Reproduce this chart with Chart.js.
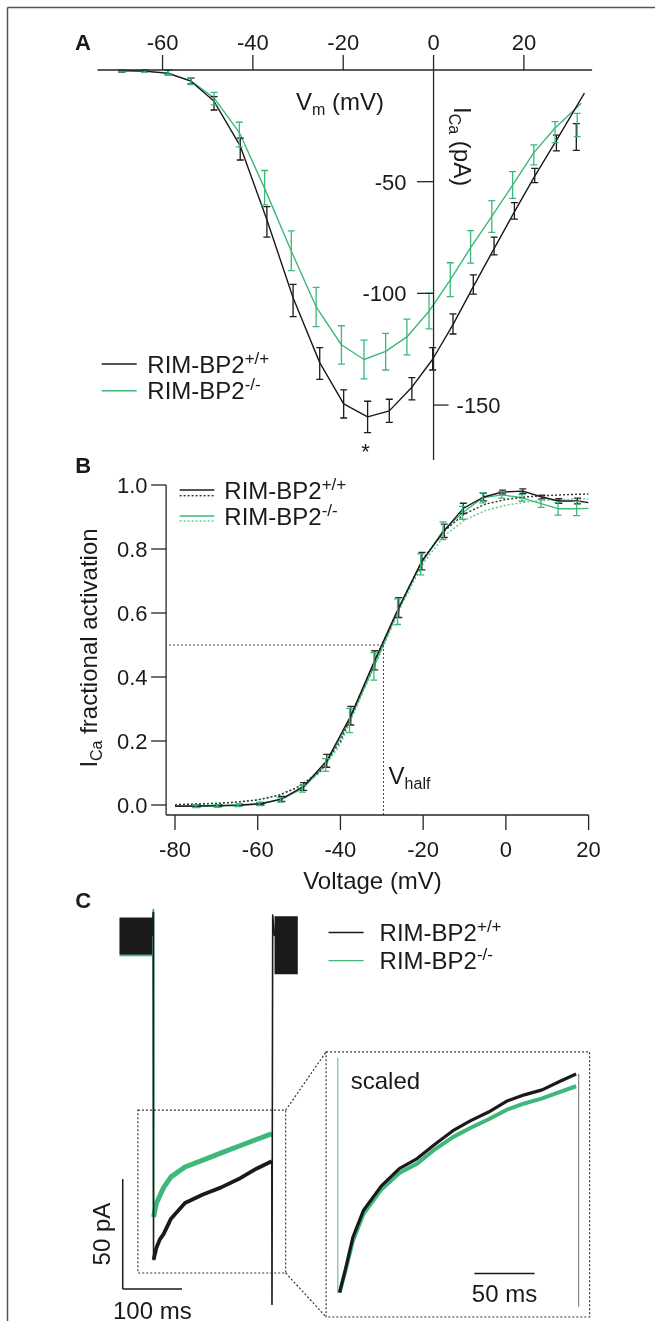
<!DOCTYPE html>
<html>
<head>
<meta charset="utf-8">
<script src="https://cdn.jsdelivr.net/npm/chart.js@4.4.1/dist/chart.umd.min.js"></script>
<style>
html,body{margin:0;padding:0;background:#fff;}
#wrap{position:relative;width:655px;height:1321px;overflow:hidden;background:#fff;}
canvas{position:absolute;left:0;top:0;}
</style>
</head>
<body>
<div id="wrap">
<canvas id="cA" width="655" height="1321"></canvas>
<canvas id="cB" width="655" height="1321"></canvas>
<canvas id="cC" width="655" height="1321"></canvas>
<canvas id="cCi" width="655" height="1321"></canvas>
</div>
<script>
// ---------------- Panel A: I-V relation ----------------
const aXTicks = [-60, -40, -20, 0, 20];
const aYTicks = [-50, -100, -150];
const aVoltWT = [-69, -64, -58.8, -53.7, -48.6, -42.8, -36.9, -31.1, -25.2, -19.9, -14.6, -9.8, -4.8, -0.2, 4.3, 8.8, 13.4, 17.9, 22.4, 27.2, 31.6];
const aMeanWT = [-0.5, -0.6, -1.2, -4.9, -14.9, -35.4, -68, -103.2, -131.4, -149.5, -155.3, -152.6, -142.7, -129.3, -113.7, -96, -78.8, -63.1, -47.2, -32.7, -30];
const aSemWT  = [0.4, 0.5, 1, 1.3, 3, 4.9, 6.8, 7.2, 7.1, 6.3, 7, 5.2, 5, 5, 4.5, 4.3, 4, 3.7, 3.2, 3.5, 6];
const aVoltKO = [-69, -64, -58.8, -53.7, -48.6, -43, -37.4, -31.5, -26, -20.4, -15.4, -10.6, -5.9, -1.0, 3.7, 8.2, 12.9, 17.5, 22.2, 26.9, 31.8];
const aMeanKO = [-0.4, -0.5, -1, -5, -12.8, -28.9, -52.7, -80.9, -106.1, -123.1, -129.6, -126.1, -119.5, -107.9, -93.9, -79.2, -65.6, -51.5, -38, -27.8, -24.6];
const aSemKO  = [0.4, 0.5, 1, 1.5, 2.8, 5.5, 7.7, 8.9, 8.8, 8.6, 8.7, 8.2, 8, 8, 7.6, 7.3, 7.1, 6, 4.5, 4.7, 5.2];
const aFitVoltWT = [-69.7, -64, -58.8, -53.7, -48.6, -42.8, -36.9, -31.1, -25.2, -19.9, -14.6, -9.8, -4.8, -0.2, 4.3, 8.8, 13.4, 17.9, 22.4, 27.2, 33.4];
const aFitWT     = [-0.3, -0.5, -1.5, -5, -14, -34, -67, -102, -131, -149.5, -155.3, -152.6, -142, -129.5, -114, -97, -80, -63.5, -47.5, -31.5, -10.4];
const aFitVoltKO = [-69.7, -64, -58.8, -53.7, -48.6, -43, -37.4, -31.5, -26, -20.4, -15.4, -10.6, -5.9, -1, 3.7, 8.2, 12.9, 17.5, 22.2, 26.9, 32.7];
const aFitKO     = [-0.3, -0.5, -1.3, -5, -12.5, -28, -53, -81, -106, -123, -129.6, -126, -119.5, -108, -94, -79.5, -65.5, -51.5, -37, -26, -14.9];
const aStarVolt = -14.6;

// ---------------- Panel B: fractional activation ----------------
const bXTicks = [-80, -60, -40, -20, 0, 20];
const bYTicks = [0, 0.2, 0.4, 0.6, 0.8, 1.0];
const bVoltWT = [-74.6, -69.4, -64.4, -59.2, -54.2, -48.9, -43.3, -37.5, -31.7, -25.9, -20.3, -14.9, -10.3, -5.4, -0.8, 4.1, 8.7, 12.8, 17.3];
const bMeanWT = [-0.003, -0.002, 0.0, 0.004, 0.019, 0.058, 0.138, 0.279, 0.452, 0.617, 0.762, 0.857, 0.927, 0.9625, 0.978, 0.981, 0.9625, 0.95, 0.95];
const bSemWT  = [0.003, 0.003, 0.003, 0.004, 0.008, 0.012, 0.02, 0.029, 0.03, 0.031, 0.027, 0.021, 0.016, 0.012, 0.006, 0.007, 0.006, 0.007, 0.009];
const bVoltKO = [-75, -69.8, -64.8, -59.6, -54.5, -49.2, -43.6, -37.8, -31.9, -26.2, -20.6, -15.2, -10.5, -5.6, -1.0, 3.9, 8.5, 12.6, 17.1];
const bMeanKO = [-0.004, -0.003, -0.002, 0.003, 0.016, 0.051, 0.125, 0.264, 0.433, 0.604, 0.752, 0.857, 0.913, 0.96, 0.969, 0.96, 0.942, 0.926, 0.926];
const bSemKO  = [0.004, 0.004, 0.003, 0.005, 0.007, 0.011, 0.02, 0.038, 0.043, 0.04, 0.033, 0.028, 0.02, 0.016, 0.01, 0.01, 0.012, 0.02, 0.022];
const bLineEndsV = [-80, 20];
const bLineEndsWT = [-0.004, 0.945];
const bLineEndsKO = [-0.004, 0.927];
const bFitVolt = [-80, -75, -70, -65, -60, -55, -50, -45, -40, -35, -30, -25, -20, -15, -10, -5, 0, 5, 10, 15, 20];
const bFitWT   = [0.001, 0.003, 0.005, 0.009, 0.016, 0.03, 0.058, 0.105, 0.20, 0.352, 0.50, 0.64, 0.77, 0.855, 0.91, 0.94, 0.955, 0.963, 0.967, 0.970, 0.972];
const bFitKO   = [0.001, 0.003, 0.005, 0.009, 0.016, 0.03, 0.055, 0.10, 0.19, 0.34, 0.485, 0.63, 0.755, 0.84, 0.89, 0.92, 0.937, 0.947, 0.952, 0.955, 0.957];
const bVhalf = -29.6;
const bHalfLevel = 0.5;

// ---------------- Panel C: example traces ----------------
const cHoldT = [-56.7, -1.9];
const cHoldMidWT = [0, 0];
const cHoldMidKO = [-0.7, -0.7];
const cTailT = [204.6, 243.8];
const cTailMid = [-4.2, -4.2];
const cTraceT_WT = [0.7, 5.4, 11.5, 17.5, 30, 53.6, 83.8, 113.8, 144, 174, 198.2, 200];
const cTraceI_WT = [-147.2, -141.7, -137.8, -135.5, -128.5, -121.4, -117.5, -114.4, -110.5, -105.8, -102.6, -102.4];
const cTraceT_KO = [0.7, 5.4, 17.5, 30, 53.6, 83.8, 113.8, 144, 174, 198.2, 200];
const cTraceI_KO = [-127.7, -121.5, -114.4, -109.5, -105, -101.9, -98.7, -95.6, -92.5, -90.1, -90];
const cOnT  = [-1.9, 0, 0.4, 0.7];
const cOnWT = [0, 10.7, -140, -147.2];
const cOnKO = [0, 12, -120, -127.7];
const cOffT  = [200, 200.3, 201.5, 204.6];
const cOffWT = [-102.4, -167.5, 9.5, 0];
const cZoomBoxT = [-25.8, 223.4];
const cZoomBoxI = [-79.2, -153.2];
const cBarT = [-51.4, 48.6];      // 100 ms
const cBarI = [-110.5, -160.5];   // 50 pA
// scaled inset
const ciT      = [1.5, 6.6, 12.5, 21.4, 36.2, 51.1, 65.9, 80.7, 95.6, 110.4, 125.2, 140, 154.9, 169.7, 184.6, 197.9];
const ciNormWT = [-1.0, -0.966, -0.923, -0.885, -0.851, -0.827, -0.813, -0.793, -0.774, -0.760, -0.748, -0.733, -0.724, -0.717, -0.705, -0.695];
const ciNormKO = [-1.0, -0.968, -0.928, -0.89, -0.856, -0.833, -0.82, -0.80, -0.783, -0.77, -0.758, -0.745, -0.736, -0.729, -0.72, -0.712];
const ciStepT = [0, 0];
const ciStepOn = [-0.673, -1.0];
const ciEndT = [200, 200];
const ciStepOff = [-0.695, -1.019];
const ciBarT = [113.4, 163.4];    // 50 ms
const ciBarLevel = -0.9735;

// ---------------- helpers ----------------
const FONT = '"Liberation Sans", Arial, Helvetica, sans-serif';
const INK = '#1a1a1a';
const AXIS = '#262626';
const GREEN = 'rgb(61,184,122)';
const GREEN_L = 'rgb(95,200,140)';
Chart.defaults.font.family = FONT;

function pts(xs, ys) { return xs.map((x, i) => ({x: x, y: ys[i]})); }
function seg(ctx, x1, y1, x2, y2) { ctx.beginPath(); ctx.moveTo(x1, y1); ctx.lineTo(x2, y2); ctx.stroke(); }
function rich(ctx, parts, x, y, o) {
  o = o || {};
  ctx.save();
  ctx.translate(x, y);
  if (o.rot) ctx.rotate(o.rot);
  let w = 0;
  parts.forEach(p => { ctx.font = (p.b ? 'bold ' : '') + p.s + 'px ' + FONT; p.w = ctx.measureText(p.t).width; w += p.w; });
  let cx = o.align === 'center' ? -w / 2 : (o.align === 'right' ? -w : 0);
  ctx.fillStyle = o.color || INK;
  ctx.textAlign = 'left';
  ctx.textBaseline = 'alphabetic';
  parts.forEach(p => { ctx.font = (p.b ? 'bold ' : '') + p.s + 'px ' + FONT; ctx.fillText(p.t, cx, p.dy || 0); cx += p.w; });
  ctx.restore();
}
function errBars(chart, xv, yv, ev, color, cap, lw) {
  const ctx = chart.ctx, xs = chart.scales.x, ys = chart.scales.y;
  cap = cap || 3.5;
  ctx.save();
  ctx.strokeStyle = color; ctx.lineWidth = lw || 1.2; ctx.setLineDash([]);
  xv.forEach((v, i) => {
    const px = xs.getPixelForValue(v);
    const p1 = ys.getPixelForValue(yv[i] - ev[i]);
    const p2 = ys.getPixelForValue(yv[i] + ev[i]);
    ctx.beginPath();
    ctx.moveTo(px, p1); ctx.lineTo(px, p2);
    ctx.moveTo(px - cap, p1); ctx.lineTo(px + cap, p1);
    ctx.moveTo(px - cap, p2); ctx.lineTo(px + cap, p2);
    ctx.stroke();
  });
  ctx.restore();
}
function legendEntry(ctx, x1, x2, tx, cy, color, sup, dash, cy2, color2) {
  ctx.save();
  ctx.lineWidth = 1.4; ctx.strokeStyle = color; ctx.setLineDash([]);
  seg(ctx, x1, cy, x2, cy);
  if (dash) { ctx.setLineDash([2, 2]); ctx.strokeStyle = color2; seg(ctx, x1, cy2, x2, cy2); }
  ctx.restore();
  rich(ctx, [{t: 'RIM-BP2', s: 24}, {t: sup, s: 17, dy: -9}], tx, cy + 8.6, {align: 'left'});
}
function baseOpts(area, xr, yr) {
  return {
    responsive: false, animation: false, events: [],
    layout: {padding: {left: area[0], top: area[1], right: 655 - area[2], bottom: 1321 - area[3]}},
    plugins: {legend: {display: false}, tooltip: {enabled: false}},
    scales: {
      x: {type: 'linear', min: xr[0], max: xr[1], display: false},
      y: {type: 'linear', min: yr[0], max: yr[1], display: false}
    }
  };
}
function lineDs(data, color, width, dash, extra) {
  return Object.assign({data: data, showLine: true, borderColor: color, backgroundColor: color, borderWidth: width,
    pointRadius: 0, tension: 0, fill: false, borderDash: dash || [], borderCapStyle: 'butt', borderJoinStyle: 'round'}, extra || {});
}

// ---------------- Chart A ----------------
const decorA = {id: 'decorA', afterDraw(chart) {
  const ctx = chart.ctx, x = chart.scales.x, y = chart.scales.y;
  const x0 = x.getPixelForValue(0), y0 = y.getPixelForValue(0);
  errBars(chart, aVoltWT, aMeanWT, aSemWT, INK, 3.5, 1.3);
  errBars(chart, aVoltKO, aMeanKO, aSemKO, GREEN, 3.5, 1.3);
  ctx.save();
  ctx.strokeStyle = AXIS; ctx.lineWidth = 1.3;
  seg(ctx, x.left, y0, x.right, y0);
  seg(ctx, x0, y0, x0, y.bottom);
  aXTicks.forEach(v => {
    const px = x.getPixelForValue(v);
    seg(ctx, px, y0, px, y0 - 15);
    rich(ctx, [{t: String(v), s: 22}], px, 42 + 7.9, {align: 'center'});
  });
  aYTicks.forEach(v => {
    const py = y.getPixelForValue(v);
    if (v > -150) {
      seg(ctx, x0 - 16.5, py, x0, py);
      rich(ctx, [{t: String(v), s: 22}], x0 - 27, py + 7.9, {align: 'right'});
    } else {
      seg(ctx, x0, py, x0 + 15, py);
      rich(ctx, [{t: String(v), s: 22}], x0 + 23, py + 7.9, {align: 'left'});
    }
  });
  ctx.restore();
  rich(ctx, [{t: 'V', s: 24}, {t: 'm', s: 16, dy: 5}, {t: ' (mV)', s: 24}], 296, 101 + 8.6, {align: 'left'});
  rich(ctx, [{t: 'I', s: 24}, {t: 'Ca', s: 16, dy: 5}, {t: ' (pA)', s: 24}], 454, 107, {align: 'left', rot: Math.PI / 2});
  legendEntry(ctx, 101.7, 136.7, 147.3, 364, INK, '+/+');
  legendEntry(ctx, 101.7, 136.7, 147.3, 390.7, GREEN, '-/-');
  rich(ctx, [{t: '*', s: 22}], x.getPixelForValue(aStarVolt) - 2, 459, {align: 'center'});
  rich(ctx, [{t: 'A', s: 22, b: true}], 83, 42 + 7.9, {align: 'center'});
}};
new Chart(document.getElementById('cA'), {
  type: 'scatter',
  data: {datasets: [
    lineDs(pts(aFitVoltWT, aFitWT), INK, 1.4),
    lineDs(pts(aFitVoltKO, aFitKO), GREEN, 1.4)
  ]},
  options: baseOpts([97.5, 70, 592.1, 460], [-74.4, 35.1], [-174.6, 0]),
  plugins: [decorA]
});

// ---------------- Chart B ----------------
const decorB = {id: 'decorB', afterDraw(chart) {
  const ctx = chart.ctx, x = chart.scales.x, y = chart.scales.y;
  const xl = x.left, yb = y.bottom;
  ctx.save();
  ctx.strokeStyle = '#444'; ctx.lineWidth = 1; ctx.setLineDash([2, 2]);
  const vx = x.getPixelForValue(bVhalf), hy = y.getPixelForValue(bHalfLevel);
  seg(ctx, xl + 3, hy, vx, hy);
  seg(ctx, vx, hy, vx, yb);
  ctx.restore();
  errBars(chart, bVoltWT, bMeanWT, bSemWT, '#2a2a2a', 3.5, 1.3);
  errBars(chart, bVoltKO, bMeanKO, bSemKO, GREEN, 3.5, 1.3);
  ctx.save();
  ctx.strokeStyle = AXIS; ctx.lineWidth = 1.3; ctx.setLineDash([]);
  seg(ctx, xl, y.getPixelForValue(1.0), xl, yb);
  seg(ctx, xl, yb, x.right, yb);
  bYTicks.forEach(v => {
    const py = y.getPixelForValue(v);
    seg(ctx, xl - 15, py, xl, py);
    rich(ctx, [{t: v.toFixed(1), s: 22}], xl - 18.6, py + 7.9, {align: 'right'});
  });
  bXTicks.forEach(v => {
    const px = x.getPixelForValue(v);
    seg(ctx, px, yb, px, yb + 15);
    rich(ctx, [{t: String(v), s: 22}], px, 849 + 7.9, {align: 'center'});
  });
  ctx.restore();
  rich(ctx, [{t: 'Voltage (mV)', s: 24}], 372.5, 880 + 8.6, {align: 'center'});
  rich(ctx, [{t: 'I', s: 24}, {t: 'Ca', s: 16, dy: 5}, {t: ' fractional activation', s: 24}], 97, 648, {align: 'center', rot: -Math.PI / 2});
  rich(ctx, [{t: 'V', s: 24}, {t: 'half', s: 16, dy: 5}], 388.6, 775 + 8.6, {align: 'left'});
  legendEntry(ctx, 179.6, 214.3, 224.3, 490, INK, '+/+', true, 495.7, '#333');
  legendEntry(ctx, 179.6, 214.3, 224.3, 516, GREEN, '-/-', true, 521, GREEN_L);
  rich(ctx, [{t: 'B', s: 22, b: true}], 83.2, 465 + 7.9, {align: 'center'});
}};
new Chart(document.getElementById('cB'), {
  type: 'scatter',
  data: {datasets: [
    lineDs(pts(bLineEndsV.slice(0, 1).concat(bVoltWT, bLineEndsV.slice(1)), bLineEndsWT.slice(0, 1).concat(bMeanWT, bLineEndsWT.slice(1))), INK, 1.4),
    lineDs(pts(bFitVolt, bFitWT), '#333', 1.4, [2, 2]),
    lineDs(pts(bLineEndsV.slice(0, 1).concat(bVoltKO, bLineEndsV.slice(1)), bLineEndsKO.slice(0, 1).concat(bMeanKO, bLineEndsKO.slice(1))), GREEN, 1.4),
    lineDs(pts(bFitVolt, bFitKO), GREEN_L, 1.4, [2, 2])
  ]},
  options: baseOpts([166.1, 475, 588.6, 815], [-82.15, 20], [-0.03125, 1.03125]),
  plugins: [decorB]
});

// ---------------- Chart C (raw traces) ----------------
const decorC = {id: 'decorC', afterDraw(chart) {
  const ctx = chart.ctx, x = chart.scales.x, y = chart.scales.y;
  ctx.save();
  ctx.strokeStyle = '#333'; ctx.lineWidth = 1.2; ctx.setLineDash([2, 2]);
  const bx1 = x.getPixelForValue(cZoomBoxT[0]), bx2 = x.getPixelForValue(cZoomBoxT[1]);
  const by1 = y.getPixelForValue(cZoomBoxI[0]), by2 = y.getPixelForValue(cZoomBoxI[1]);
  ctx.strokeRect(bx1, by1, bx2 - bx1, by2 - by1);
  ctx.setLineDash([]); ctx.strokeStyle = INK; ctx.lineWidth = 1.5;
  const sx = x.getPixelForValue(cBarT[0]), sx2 = x.getPixelForValue(cBarT[1]);
  const sy1 = y.getPixelForValue(cBarI[0]), sy2 = y.getPixelForValue(cBarI[1]);
  seg(ctx, sx, sy1, sx, sy2);
  seg(ctx, sx, sy2, sx2, sy2);
  ctx.strokeStyle = '#555'; ctx.lineWidth = 1.5;
  seg(ctx, 7.5, 7.5, 655, 7.5);
  seg(ctx, 7.5, 7.5, 7.5, 1321);
  ctx.restore();
  rich(ctx, [{t: '50 pA', s: 24}], 110, (sy1 + sy2) / 2, {align: 'center', rot: -Math.PI / 2});
  rich(ctx, [{t: '100 ms', s: 24}], (sx + sx2) / 2, 1310 + 8.6, {align: 'center'});
  legendEntry(ctx, 328.5, 363.6, 379.6, 932.5, INK, '+/+');
  legendEntry(ctx, 328.5, 363.6, 379.6, 960.6, GREEN, '-/-');
  rich(ctx, [{t: 'C', s: 22, b: true}], 83.2, 900.4 + 7.9, {align: 'center'});
}};
const chartC = new Chart(document.getElementById('cC'), {
  type: 'scatter',
  data: {datasets: [
    lineDs(pts(cTraceT_WT, cTraceI_WT), INK, 3.8),
    lineDs(pts(cOnT, cOnWT), INK, 1.6),
    lineDs(pts(cOffT, cOffWT), INK, 1.6),
    lineDs(pts(cHoldT, cHoldMidWT), INK, 37),
    lineDs(pts(cTailT, cTailMid), INK, 58),
    lineDs(pts(cTraceT_KO, cTraceI_KO), GREEN, 5),
    lineDs(pts(cOnT, cOnKO), GREEN, 1.6),
    lineDs(pts(cHoldT, cHoldMidKO), GREEN, 37.5)
  ]},
  options: baseOpts([100, 895, 310, 1315], [-89.7, 264.4], [-172.3, 18.64]),
  plugins: [decorC]
});

// ---------------- Chart C inset (scaled) ----------------
const decorCi = {id: 'decorCi', afterDraw(chart) {
  const ctx = chart.ctx, a = chart.chartArea, x = chart.scales.x, y = chart.scales.y;
  const mx = chartC.scales.x, my = chartC.scales.y;
  ctx.save();
  ctx.strokeStyle = '#333'; ctx.lineWidth = 1.2; ctx.setLineDash([2, 2]);
  ctx.strokeRect(a.left, a.top, a.right - a.left, a.bottom - a.top);
  const bx2 = mx.getPixelForValue(cZoomBoxT[1]);
  const by1 = my.getPixelForValue(cZoomBoxI[0]), by2 = my.getPixelForValue(cZoomBoxI[1]);
  seg(ctx, bx2, by1, a.left, a.top);
  seg(ctx, bx2, by2, a.left, a.bottom);
  ctx.setLineDash([]); ctx.strokeStyle = INK; ctx.lineWidth = 1.5;
  const b1 = x.getPixelForValue(ciBarT[0]), b2 = x.getPixelForValue(ciBarT[1]), by = y.getPixelForValue(ciBarLevel);
  seg(ctx, b1, by, b2, by);
  ctx.restore();
  rich(ctx, [{t: '50 ms', s: 24}], (b1 + b2) / 2, 1293.2 + 8.6, {align: 'center'});
  rich(ctx, [{t: 'scaled', s: 24}], 350.7, 1080 + 8.6, {align: 'left'});
}};
new Chart(document.getElementById('cCi'), {
  type: 'scatter',
  data: {datasets: [
    lineDs(pts(ciT, ciNormWT), INK, 3.2),
    lineDs(pts(ciT, ciNormKO), GREEN, 4),
    lineDs(pts(ciStepT, ciStepOn), 'rgb(120,190,150)', 1.2),
    lineDs(pts(ciEndT, ciStepOff), '#888', 1.2)
  ]},
  options: baseOpts([326.1, 1051.8, 589.6, 1317], [-9.7, 209.1], [-1.0341, -0.6639]),
  plugins: [decorCi]
});
</script>
</body>
</html>
